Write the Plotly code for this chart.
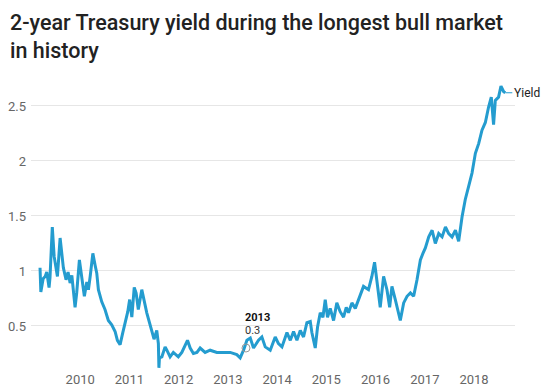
import plotly.graph_objects as go

dates = [
    "2009-03-09", "2009-03-15", "2009-04-01", "2009-04-16", "2009-04-28", "2009-05-15", "2009-05-22",
    "2009-06-08", "2009-06-22", "2009-07-16", "2009-08-05", "2009-08-29", "2009-09-18", "2009-10-03",
    "2009-10-18", "2009-10-31", "2009-11-24", "2009-12-06", "2009-12-26", "2010-01-13", "2010-02-01",
    "2010-02-19", "2010-03-03", "2010-03-16", "2010-04-05", "2010-04-22", "2010-05-04", "2010-05-16",
    "2010-06-10", "2010-07-04", "2010-07-29", "2010-08-23", "2010-09-17", "2010-10-04", "2010-10-24",
    "2010-11-13", "2010-11-30", "2010-12-20", "2011-01-03", "2011-01-19", "2011-02-06", "2011-02-20",
    "2011-03-08", "2011-04-03", "2011-05-10", "2011-06-16", "2011-07-03", "2011-07-23", "2011-08-04",
    "2011-08-08", "2011-08-12", "2011-08-30", "2011-09-10", "2011-09-23", "2011-10-06", "2011-10-30",
    "2011-11-23", "2011-12-30", "2012-01-25", "2012-03-07", "2012-03-27", "2012-04-20", "2012-05-16",
    "2012-06-09", "2012-07-16", "2012-08-22", "2012-10-11", "2012-11-29", "2013-01-18", "2013-03-08",
    "2013-04-02", "2013-04-27", "2013-05-22", "2013-06-16", "2013-07-10", "2013-08-16", "2013-09-10",
    "2013-10-05", "2013-11-11", "2013-12-18", "2014-01-11", "2014-02-06", "2014-03-15", "2014-04-09",
    "2014-05-03", "2014-05-28", "2014-06-22", "2014-07-16", "2014-08-10", "2014-09-04", "2014-09-16",
    "2014-10-11", "2014-10-28", "2014-11-17", "2014-12-07", "2014-12-24", "2015-01-10", "2015-01-30",
    "2015-02-24", "2015-03-20", "2015-04-14", "2015-05-09", "2015-05-29", "2015-06-15", "2015-07-10",
    "2015-08-04", "2015-08-28", "2015-10-04", "2015-11-10", "2015-12-05", "2015-12-25", "2016-01-11",
    "2016-02-05", "2016-03-01", "2016-03-26", "2016-04-15", "2016-05-02", "2016-05-27", "2016-06-21",
    "2016-07-03", "2016-07-28", "2016-08-22", "2016-09-16", "2016-10-10", "2016-11-04", "2016-11-29",
    "2016-12-18", "2017-01-05", "2017-01-30", "2017-02-24", "2017-03-20", "2017-04-14", "2017-05-09",
    "2017-06-03", "2017-06-27", "2017-07-22", "2017-08-16", "2017-09-09", "2017-10-04", "2017-10-28",
    "2017-11-22", "2017-12-17", "2018-01-11", "2018-02-05", "2018-03-01", "2018-03-26", "2018-04-19",
    "2018-05-09", "2018-05-26", "2018-06-08", "2018-07-02", "2018-07-20", "2018-08-09", "2018-08-21",
]
yields = [
    1.03, 0.81, 0.93, 0.95, 0.99, 0.85, 0.94,
    1.40, 1.13, 0.95, 1.30, 1.03, 0.92, 0.99,
    0.89, 0.96, 0.67, 0.80, 1.10, 0.95, 0.77,
    0.90, 0.83, 0.95, 1.16, 1.05, 0.98, 0.83,
    0.72, 0.65, 0.55, 0.51, 0.45, 0.37, 0.33,
    0.44, 0.53, 0.63, 0.74, 0.58, 0.85, 0.80,
    0.65, 0.83, 0.62, 0.47, 0.38, 0.46, 0.34,
    0.12, 0.21, 0.22, 0.26, 0.31, 0.28, 0.22,
    0.26, 0.22, 0.26, 0.37, 0.30, 0.25, 0.26,
    0.30, 0.26, 0.28, 0.26, 0.26, 0.26, 0.24,
    0.21, 0.28, 0.37, 0.39, 0.30, 0.37, 0.40,
    0.31, 0.28, 0.40, 0.34, 0.31, 0.44, 0.37,
    0.45, 0.37, 0.46, 0.40, 0.53, 0.54, 0.44,
    0.30, 0.49, 0.62, 0.58, 0.74, 0.58, 0.66,
    0.55, 0.71, 0.63, 0.58, 0.67, 0.62, 0.71,
    0.66, 0.74, 0.86, 0.83, 0.95, 1.08, 0.92,
    0.67, 0.95, 0.83, 0.67, 0.86, 0.74, 0.62,
    0.55, 0.71, 0.77, 0.80, 0.77, 0.92, 1.10,
    1.16, 1.21, 1.31, 1.37, 1.25, 1.34, 1.31,
    1.40, 1.34, 1.31, 1.37, 1.27, 1.49, 1.65,
    1.77, 1.89, 2.07, 2.16, 2.28, 2.35, 2.49,
    2.58, 2.33, 2.55, 2.58, 2.68, 2.63, 2.62,
]

series_name = "Yield"
hover_date = "2013-05-15"
hover_value = 0.3
hover_label = "2013"

y_ticks = [0.5, 1, 1.5, 2, 2.5]
y_tick_text = ["0.5", "1", "1.5", "2", "2.5"]
x_ticks = [f"{y}-01-01" for y in range(2010, 2019)]
x_tick_text = [str(y) for y in range(2010, 2019)]

title_text = "2-year Treasury yield during the longest bull market<br>in history"
line_color = "#249ccf"

fig = go.Figure()
fig.add_trace(go.Scatter(
    x=dates, y=yields, mode="lines", name=series_name,
    line=dict(color=line_color, width=3), showlegend=False,
))
fig.add_trace(go.Scatter(
    x=[hover_date], y=[hover_value], mode="markers", showlegend=False,
    marker=dict(size=8, color="rgba(0,0,0,0)", line=dict(color="#999999", width=1)),
))

fig.add_annotation(x=hover_date, y=hover_value, text="<b>" + hover_label + "</b>",
                   showarrow=False, xanchor="left", yanchor="middle", yshift=31, xshift=-3,
                   font=dict(family="Roboto, Arial", size=11, color="#111111"))
fig.add_annotation(x=hover_date, y=hover_value, text=str(hover_value),
                   showarrow=False, xanchor="left", yanchor="middle", yshift=18, xshift=-3,
                   font=dict(family="Roboto, Arial", size=11, color="#333333"))
fig.add_annotation(x=dates[-1], y=yields[-1], text=series_name,
                   showarrow=True, arrowhead=0, arrowwidth=1, arrowcolor=line_color,
                   ax=7, ay=0, xanchor="left", yanchor="middle",
                   font=dict(family="Roboto, Arial", size=12, color="#222222"))
# title as paper annotation for exact placement
fig.add_annotation(xref="paper", yref="paper", x=-23 / 484, y=1 + 72 / 290,
                   text=title_text, showarrow=False, xanchor="left", yanchor="top", align="left",
                   font=dict(family="Roboto, Arial", size=21.5, color="#222222", weight=500))

fig.update_layout(
    width=549, height=386,
    margin=dict(l=31, r=34, t=80, b=16, autoexpand=False),
    paper_bgcolor="white", plot_bgcolor="white",
    font=dict(family="Roboto, Arial", size=13, color="#666666"),
    xaxis=dict(range=["2009-01-01", "2018-11-01"], tickvals=x_ticks, ticktext=x_tick_text,
               showgrid=False, zeroline=False, showline=False, ticks="", automargin=False),
    yaxis=dict(range=[0.1, 2.736], tickvals=y_ticks, ticktext=y_tick_text,
               showgrid=True, gridcolor="#e6e6e6", gridwidth=1, zeroline=False,
               showline=False, ticks="", ticklabelstandoff=4, automargin=False),
    hovermode=False,
)

fig.write_html("out.html", config={"displayModeBar": False},
               post_script="document.body.style.margin='0';document.body.style.padding='0';")
